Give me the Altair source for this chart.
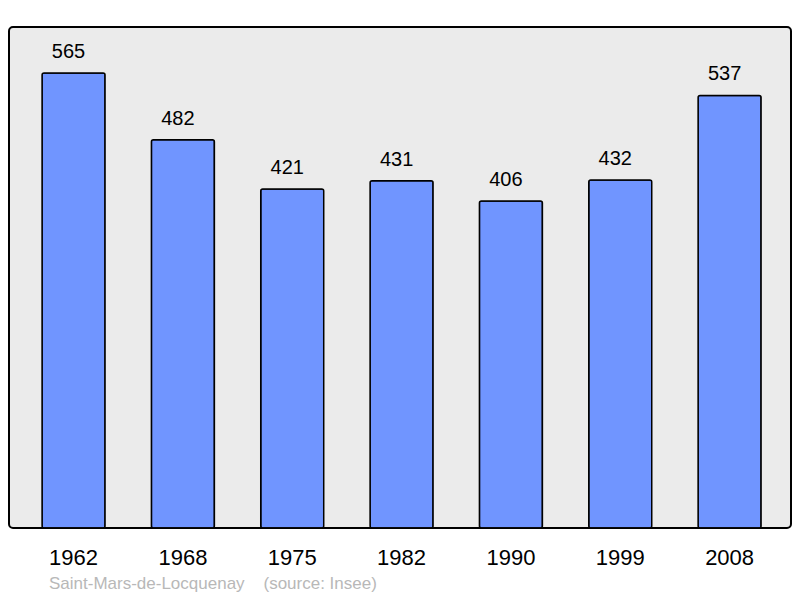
import altair as alt
import pandas as pd

years = ["1962", "1968", "1975", "1982", "1990", "1999", "2008"]
population = [565, 482, 421, 431, 406, 432, 537]
source_text = "Saint-Mars-de-Locquenay\u00a0\u00a0\u00a0\u00a0(source: Insee)"

df = pd.DataFrame({"year": years, "pop": population})

FONT = "Liberation Sans, Arial, sans-serif"

x = alt.X(
    "year:N",
    sort=years,
    scale=alt.Scale(paddingInner=0.424, paddingOuter=0.288, align=0.525),
    axis=alt.Axis(
        title=None, labelAngle=0, labelFontSize=22, labelColor="black",
        labelPadding=19, ticks=False, tickSize=0, domain=False, grid=False,
        labelFont=FONT,
    ),
)
y = alt.Y("pop:Q", scale=alt.Scale(domain=[0, 622], nice=False, zero=True), axis=None)

bars = alt.Chart(df).mark_bar(
    color="#7095ff", stroke="black", strokeWidth=1.5, cornerRadius=2
).encode(x=x, y=y)

labels = alt.Chart(df).mark_text(
    baseline="alphabetic", dy=-15, dx=-5, fontSize=20, font=FONT, color="black"
).encode(x=x, y=y, text="pop:Q")

chart = (bars + labels).properties(
    width=782,
    height=501,
    autosize=alt.AutoSizeParams(type="none"),
    padding={"left": 1, "top": 19, "right": 1, "bottom": 70},
    title=alt.TitleParams(
        text=source_text, orient="bottom", anchor="start", dx=40, offset=8,
        fontSize=17, fontWeight="normal", color="#b8b8b8", font=FONT,
    ),
).configure_view(
    fill="#ebebeb", stroke="black", strokeWidth=2, cornerRadius=4
)

chart.save("out.html", embed_options={"renderer": "svg", "actions": False})
